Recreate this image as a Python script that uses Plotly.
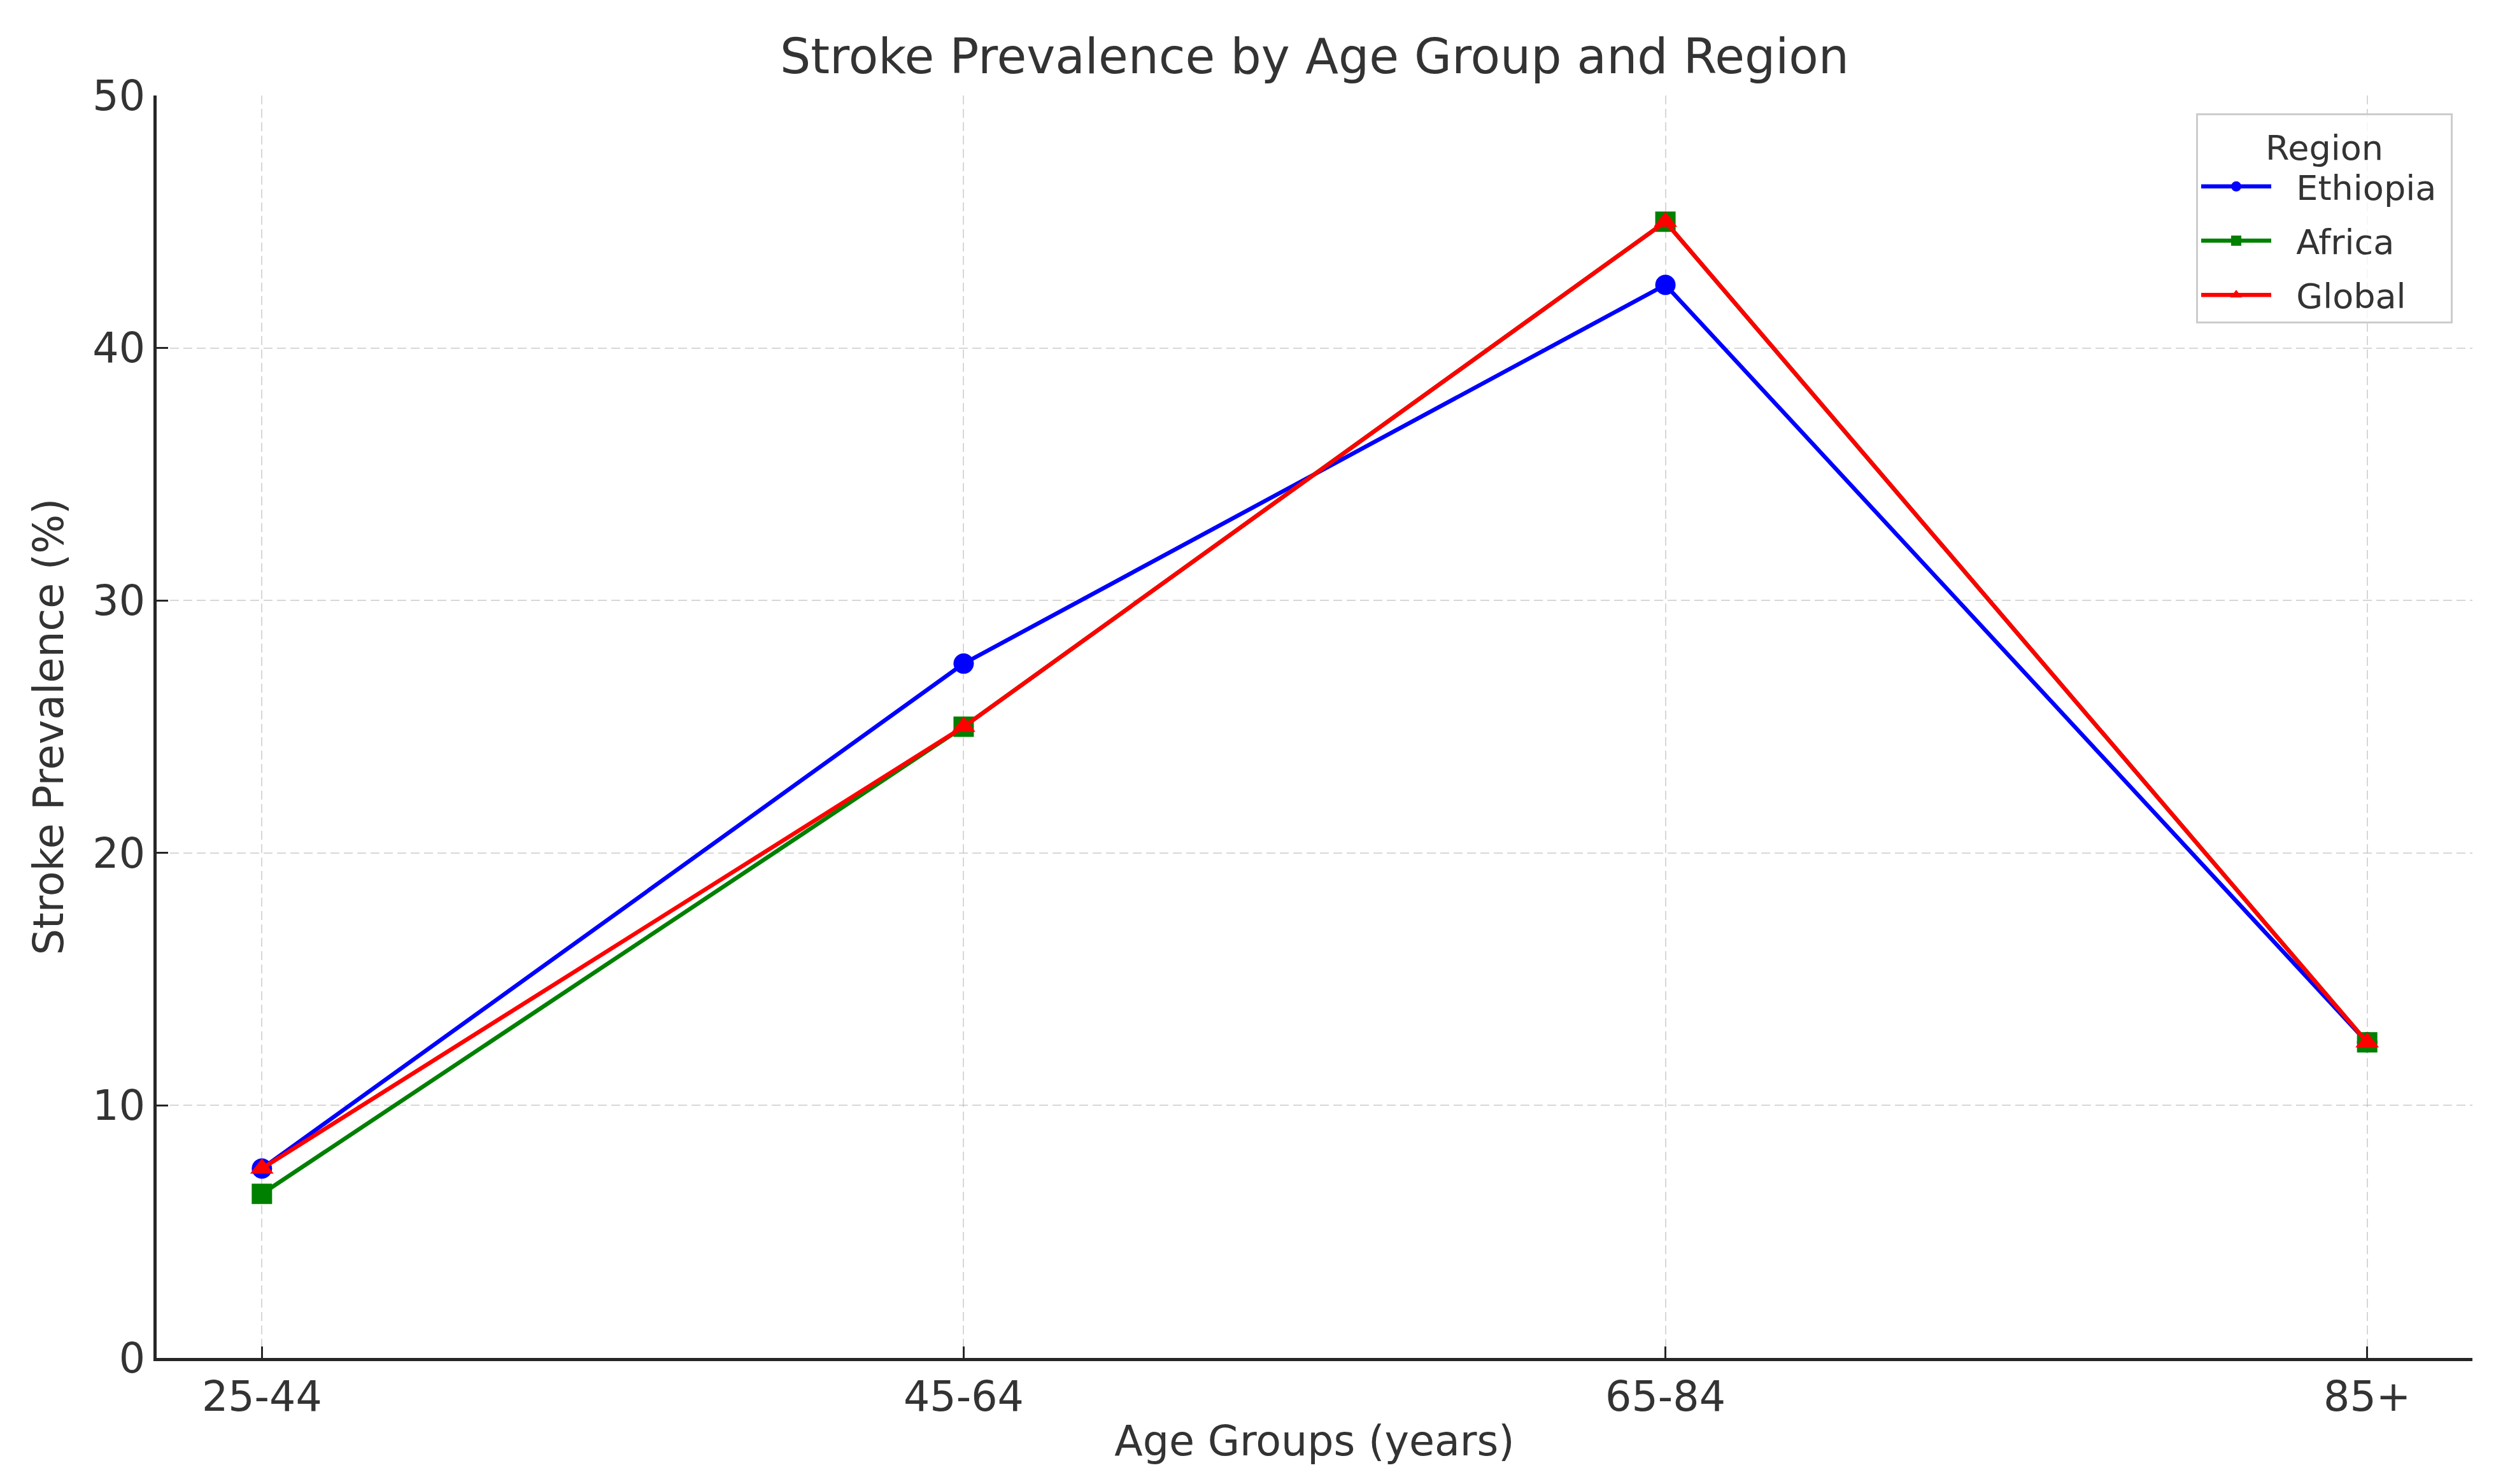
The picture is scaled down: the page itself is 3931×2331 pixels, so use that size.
import plotly.graph_objects as go

age_groups = ["25-44", "45-64", "65-84", "85+"]
ethiopia = [7.5, 27.5, 42.5, 12.5]
africa = [6.5, 25.0, 45.0, 12.5]
global_ = [7.5, 25.0, 45.0, 12.5]
y_ticks = [0, 10, 20, 30, 40, 50]

series = [
    ("Ethiopia", ethiopia, "blue", "circle"),
    ("Africa", africa, "green", "square"),
    ("Global", global_, "red", "triangle-up"),
]

W, H = 3931, 2331
L, R, T, B = 246, 48, 150, 198
FONT = "DejaVu Sans"
TXT = "#333333"
PAD = "\u00a0\u00a0"

fig = go.Figure()
for name, vals, color, sym in series:
    fig.add_trace(go.Scatter(
        x=list(range(len(age_groups))), y=vals, name=PAD + name + "\u00a0", mode="lines+markers",
        line=dict(color=color, width=6.5),
        marker=dict(color=color, symbol=sym, size=32),
        legendgroup=name,
    ))

grid = dict(showgrid=True, gridcolor="rgba(176,176,176,0.5)", gridwidth=2,
            griddash="14px,7px")

fig.update_layout(
    width=W, height=H,
    margin=dict(l=L, r=R, t=T, b=B, autoexpand=False),
    paper_bgcolor="white", plot_bgcolor="white",
    font=dict(family=FONT, color=TXT, size=65),
    title=dict(text="Stroke Prevalence by Age Group and Region",
               font=dict(family=FONT, size=76, color=TXT),
               x=0.5, xref="paper", xanchor="center",
               y=1 - 88 / H, yref="container", yanchor="middle"),
    xaxis=dict(
        tickmode="array", tickvals=list(range(len(age_groups))), ticktext=age_groups,
        range=[-0.15, 3.15], showline=True, linecolor="#262626", linewidth=5,
        ticks="inside", ticklen=18, tickwidth=3, tickcolor="#262626",
        tickfont=dict(size=65, color=TXT), zeroline=False,
        title=dict(text="Age Groups (years)", font=dict(size=65, color=TXT), standoff=12),
        **grid,
    ),
    yaxis=dict(
        range=[0, 50], tickmode="array", tickvals=y_ticks,
        showline=True, linecolor="#262626", linewidth=5,
        ticks="inside", ticklen=18, tickwidth=3, tickcolor="#262626",
        tickfont=dict(size=65, color=TXT), zeroline=False,
        title=dict(text="Stroke Prevalence (%)", font=dict(size=65, color=TXT), standoff=26),
        **grid,
    ),
    legend=dict(
        title=dict(text="Region", side="top center", font=dict(size=54, color=TXT)),
        font=dict(size=54, color=TXT),
        x=(3852 - L) / (W - L - R), xanchor="right",
        y=(H - B - 178) / (H - T - B), yanchor="top",
        bgcolor="rgba(255,255,255,0.8)", bordercolor="#cccccc", borderwidth=3,
        itemwidth=110, tracegroupgap=12,
    ),
)

fig.write_html("out.html", config={"displayModeBar": False},
               post_script="document.body.style.margin='0';document.body.style.padding='0';")
